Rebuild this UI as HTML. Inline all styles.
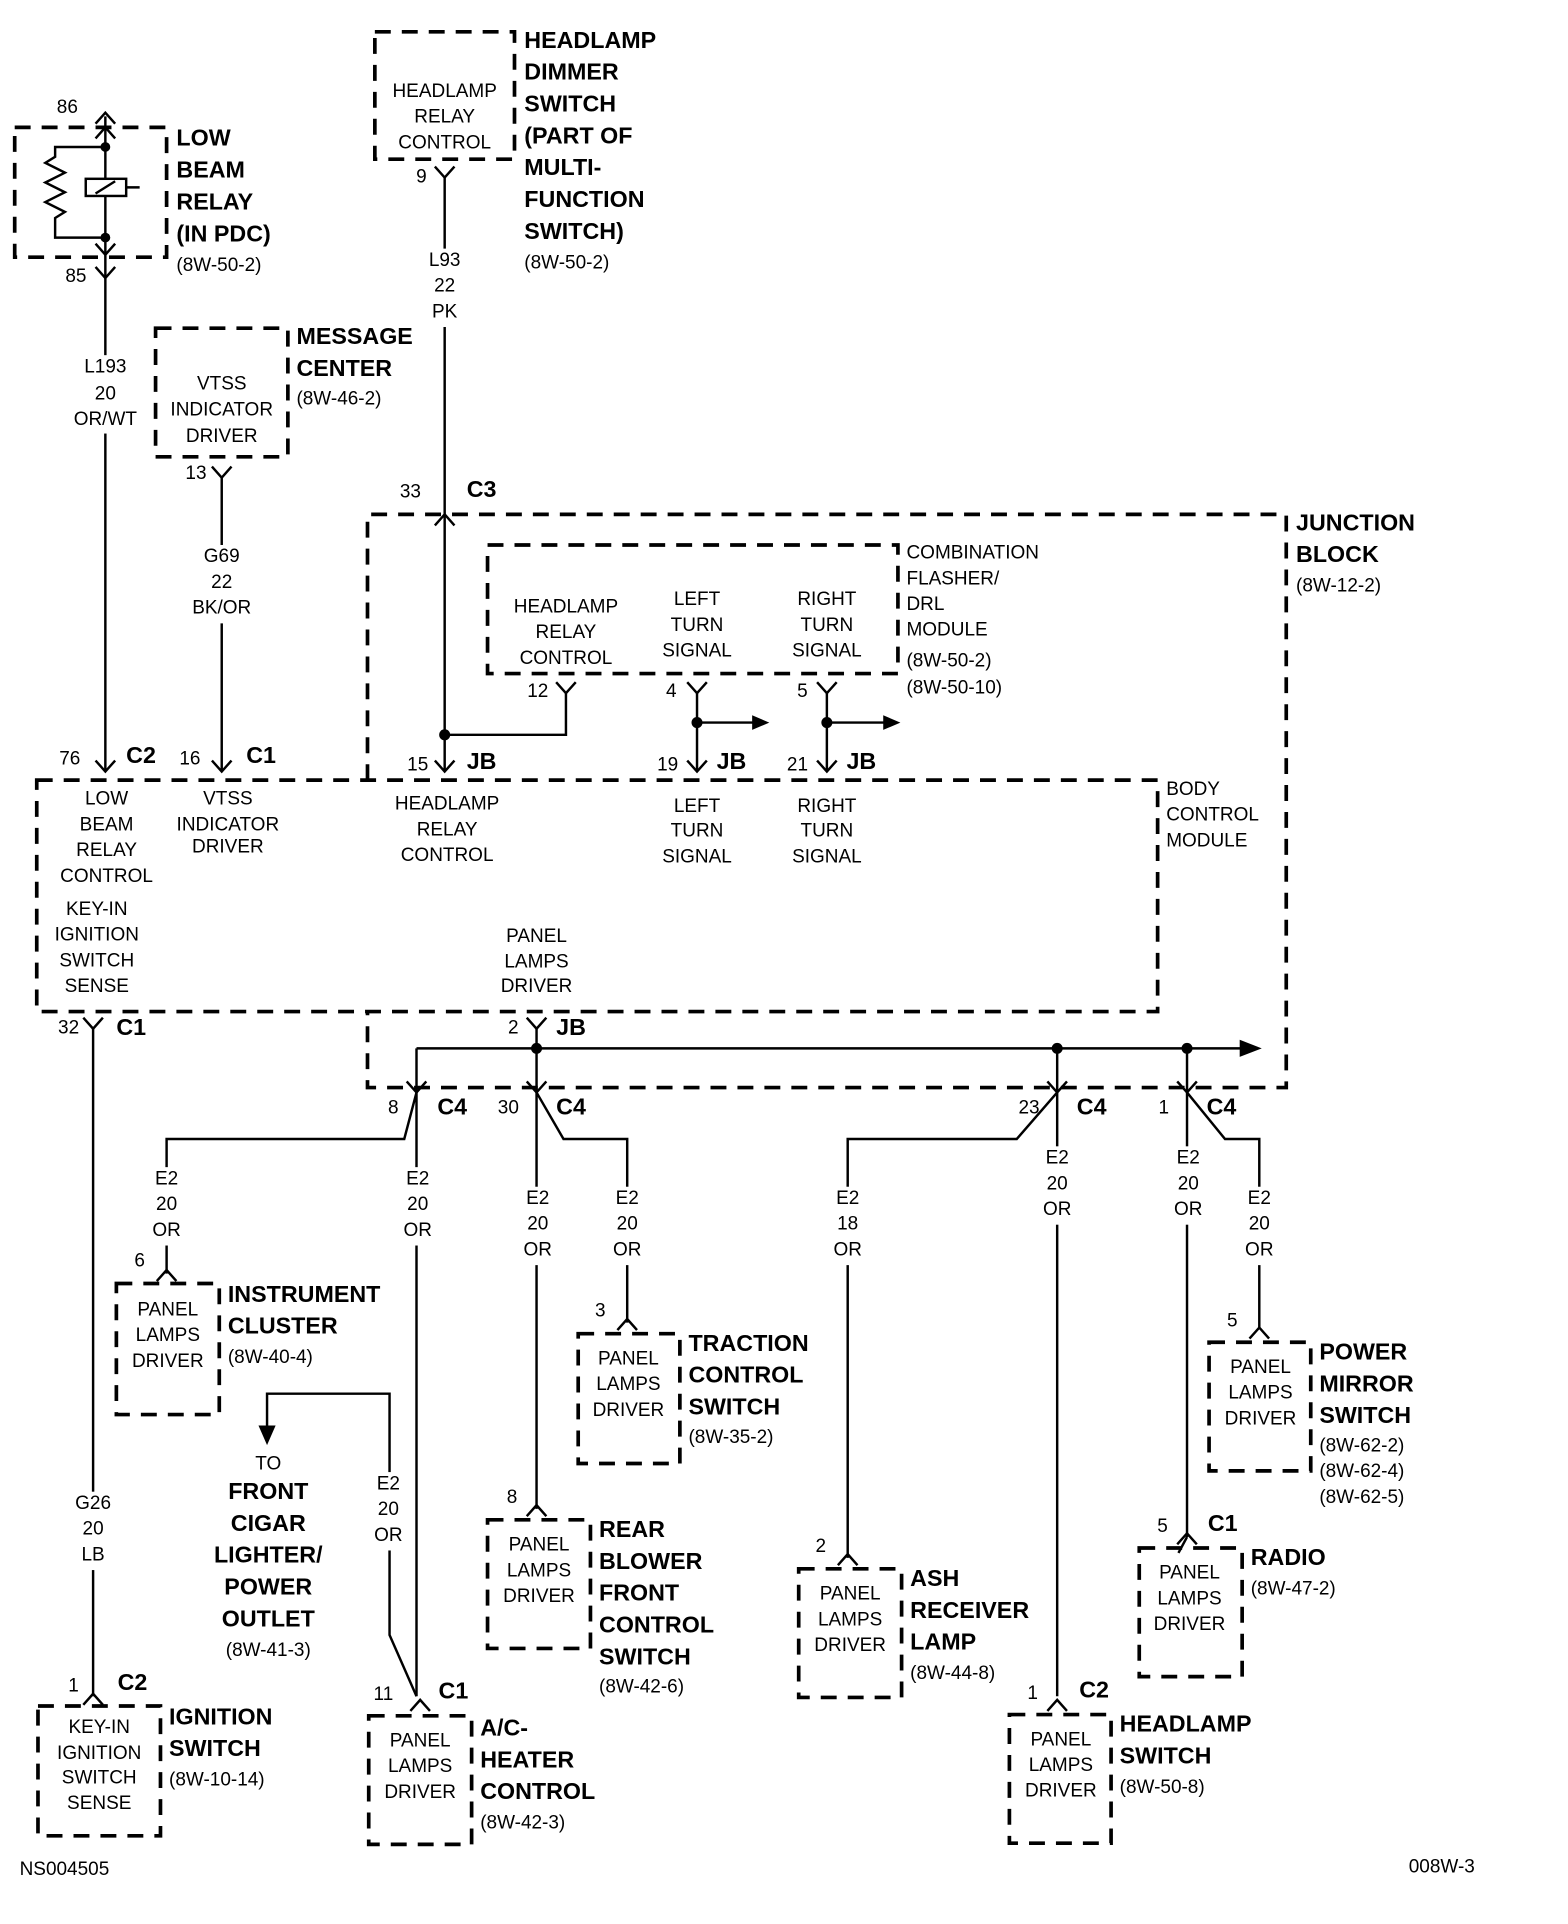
<!DOCTYPE html>
<html><head><meta charset="utf-8">
<style>
html,body{margin:0;padding:0;background:#fff;}
svg{display:block;}
text{font-family:"Liberation Sans",Arial,sans-serif;fill:#000;}
.s{font-size:15.5px;text-anchor:middle;dominant-baseline:middle;}
.sl{font-size:15.5px;dominant-baseline:middle;}
.b{font-size:19px;font-weight:bold;dominant-baseline:middle;}
.bc{font-size:19px;font-weight:bold;dominant-baseline:middle;text-anchor:middle;}
.d{fill:none;stroke:#000;stroke-width:3;stroke-dasharray:13,9;}
.w{fill:none;stroke:#000;stroke-width:2;}
.bg{fill:#fff;stroke:none;}
</style></head><body>
<svg width="1568" height="1924" viewBox="0 0 1280 1571" preserveAspectRatio="none" xmlns="http://www.w3.org/2000/svg">
<defs>
<path id="cv" d="M-8,-9 L0,0 L8,-9" fill="none" stroke="#000" stroke-width="2"/>
<path id="cu" d="M-8,9 L0,0 L8,9" fill="none" stroke="#000" stroke-width="2"/>
</defs>

<!-- LOW BEAM RELAY -->
<rect class="d" x="12" y="104" width="124" height="106"/>
<path class="w" d="M86,95 V630"/>
<use href="#cu" x="86" y="92"/><use href="#cu" x="86" y="104"/>
<use href="#cv" x="86" y="208"/><use href="#cv" x="86" y="227"/>
<path class="w" d="M86,120 H45 V128 l-8,5 l16,8 l-16,8 l16,8 l-16,8 l16,8 l-8,5 V194 H86"/>
<circle cx="86" cy="120" r="4"/><circle cx="86" cy="194" r="4"/>
<rect x="70" y="146" width="33" height="14" fill="#fff" stroke="#000" stroke-width="2"/>
<path class="w" d="M78,158 L94,148 M103,153 H114"/>
<text class="s" x="55" y="88">86</text><text class="s" x="62" y="226">85</text>
<text class="b" x="144" y="114">LOW</text><text class="b" x="144" y="140">BEAM</text>
<text class="b" x="144" y="166">RELAY</text><text class="b" x="144" y="192">(IN PDC)</text>
<text class="sl" x="144" y="217">(8W-50-2)</text>
<rect class="bg" x="58" y="290" width="58" height="64"/>
<text class="s" x="86" y="300">L193</text><text class="s" x="86" y="322">20</text><text class="s" x="86" y="343">OR/WT</text>

<!-- HEADLAMP DIMMER -->
<rect class="d" x="306" y="26" width="114" height="104"/>
<text class="s" x="363" y="75">HEADLAMP</text><text class="s" x="363" y="96">RELAY</text><text class="s" x="363" y="117">CONTROL</text>
<use href="#cv" x="363" y="145"/><text class="s" x="344" y="145">9</text>
<path class="w" d="M363,145 V600"/>
<rect class="bg" x="345" y="203" width="36" height="64"/>
<text class="s" x="363" y="213">L93</text><text class="s" x="363" y="234">22</text><text class="s" x="363" y="255">PK</text>
<text class="b" x="428" y="34">HEADLAMP</text><text class="b" x="428" y="60">DIMMER</text><text class="b" x="428" y="86">SWITCH</text>
<text class="b" x="428" y="112">(PART OF</text><text class="b" x="428" y="138">MULTI-</text><text class="b" x="428" y="164">FUNCTION</text>
<text class="b" x="428" y="190">SWITCH)</text><text class="sl" x="428" y="215">(8W-50-2)</text>

<!-- MESSAGE CENTER -->
<rect class="d" x="127" y="268" width="108" height="105"/>
<text class="s" x="181" y="314">VTSS</text><text class="s" x="181" y="335">INDICATOR</text><text class="s" x="181" y="357">DRIVER</text>
<use href="#cv" x="181" y="390"/><text class="s" x="160" y="387">13</text>
<path class="w" d="M181,390 V630"/>
<rect class="bg" x="155" y="445" width="52" height="64"/>
<text class="s" x="181" y="455">G69</text><text class="s" x="181" y="476">22</text><text class="s" x="181" y="497">BK/OR</text>
<text class="b" x="242" y="276">MESSAGE</text><text class="b" x="242" y="302">CENTER</text><text class="sl" x="242" y="326">(8W-46-2)</text>

<!-- JUNCTION BLOCK -->
<path class="d" d="M300,637 V420 H1050 V888 H300 V826"/>
<use href="#cu" x="363" y="420"/>
<text class="s" x="335" y="402">33</text><text class="b" x="381" y="401">C3</text>
<text class="b" x="1058" y="428">JUNCTION</text><text class="b" x="1058" y="454">BLOCK</text><text class="sl" x="1058" y="479">(8W-12-2)</text>

<rect class="d" x="398" y="445" width="335" height="105"/>
<text class="s" x="462" y="496">HEADLAMP</text><text class="s" x="462" y="517">RELAY</text><text class="s" x="462" y="538">CONTROL</text>
<text class="s" x="569" y="490">LEFT</text><text class="s" x="569" y="511">TURN</text><text class="s" x="569" y="532">SIGNAL</text>
<text class="s" x="675" y="490">RIGHT</text><text class="s" x="675" y="511">TURN</text><text class="s" x="675" y="532">SIGNAL</text>
<text class="sl" x="740" y="452">COMBINATION</text><text class="sl" x="740" y="473">FLASHER/</text><text class="sl" x="740" y="494">DRL</text>
<text class="sl" x="740" y="515">MODULE</text><text class="sl" x="740" y="540">(8W-50-2)</text><text class="sl" x="740" y="562">(8W-50-10)</text>

<use href="#cv" x="462" y="566"/><text class="s" x="439" y="565">12</text>
<use href="#cv" x="569" y="566"/><text class="s" x="548" y="565">4</text>
<use href="#cv" x="675" y="566"/><text class="s" x="655" y="565">5</text>
<path class="w" d="M462,566 V600 H363 M569,566 V630 M569,590 H618 M675,566 V630 M675,590 H724"/>
<path d="M628,590 L614,584 L614,596 Z M735,590 L721,584 L721,596 Z"/>
<circle cx="363" cy="600" r="4.5"/><circle cx="569" cy="590" r="4.5"/><circle cx="675" cy="590" r="4.5"/>
<path class="w" d="M363,600 V630"/>
<use href="#cv" x="363" y="630"/><use href="#cv" x="569" y="630"/><use href="#cv" x="675" y="630"/>
<text class="s" x="341" y="625">15</text><text class="b" x="381" y="623">JB</text>
<text class="s" x="545" y="625">19</text><text class="b" x="585" y="623">JB</text>
<text class="s" x="651" y="625">21</text><text class="b" x="691" y="623">JB</text>

<!-- BODY CONTROL MODULE -->
<rect class="d" x="30" y="637" width="915" height="189"/>
<text class="sl" x="952" y="645">BODY</text><text class="sl" x="952" y="666">CONTROL</text><text class="sl" x="952" y="687">MODULE</text>
<use href="#cv" x="86" y="630"/><use href="#cv" x="181" y="630"/>
<text class="s" x="57" y="620">76</text><text class="b" x="103" y="618">C2</text>
<text class="s" x="155" y="620">16</text><text class="b" x="201" y="618">C1</text>
<text class="s" x="87" y="653">LOW</text><text class="s" x="87" y="674">BEAM</text><text class="s" x="87" y="695">RELAY</text><text class="s" x="87" y="716">CONTROL</text>
<text class="s" x="186" y="653">VTSS</text><text class="s" x="186" y="674">INDICATOR</text><text class="s" x="186" y="692">DRIVER</text>
<text class="s" x="365" y="657">HEADLAMP</text><text class="s" x="365" y="678">RELAY</text><text class="s" x="365" y="699">CONTROL</text>
<text class="s" x="569" y="659">LEFT</text><text class="s" x="569" y="679">TURN</text><text class="s" x="569" y="700">SIGNAL</text>
<text class="s" x="675" y="659">RIGHT</text><text class="s" x="675" y="679">TURN</text><text class="s" x="675" y="700">SIGNAL</text>
<text class="s" x="79" y="743">KEY-IN</text><text class="s" x="79" y="764">IGNITION</text><text class="s" x="79" y="785">SWITCH</text><text class="s" x="79" y="806">SENSE</text>
<text class="s" x="438" y="765">PANEL</text><text class="s" x="438" y="786">LAMPS</text><text class="s" x="438" y="806">DRIVER</text>

<use href="#cv" x="76" y="840"/><text class="s" x="56" y="840">32</text><text class="b" x="95" y="840">C1</text>
<path class="w" d="M76,840 V1385"/>
<rect class="bg" x="56" y="1218" width="40" height="64"/>
<text class="s" x="76" y="1228">G26</text><text class="s" x="76" y="1249">20</text><text class="s" x="76" y="1270">LB</text>
<use href="#cv" x="438" y="840"/><text class="s" x="419" y="840">2</text><text class="b" x="454" y="840">JB</text>

<!-- bus -->
<path class="w" d="M340,856 H1015 M438,840 V892 M340,856 V892 M863,856 V892 M969,856 V892"/>
<path d="M1030,856 L1012,849 L1012,863 Z"/>
<circle cx="438" cy="856" r="4.5"/><circle cx="863" cy="856" r="4.5"/><circle cx="969" cy="856" r="4.5"/>
<use href="#cv" x="340" y="892"/><use href="#cv" x="438" y="892"/><use href="#cv" x="863" y="892"/><use href="#cv" x="969" y="892"/>
<text class="s" x="321" y="905">8</text><text class="b" x="357" y="905">C4</text>
<text class="s" x="415" y="905">30</text><text class="b" x="454" y="905">C4</text>
<text class="s" x="840" y="905">23</text><text class="b" x="879" y="905">C4</text>
<text class="s" x="950" y="905">1</text><text class="b" x="985" y="905">C4</text>

<!-- C4 8 -->
<path class="w" d="M340,892 L330,930 H136 V1040 M340,892 V1385"/>
<rect class="bg" x="120" y="953" width="32" height="64"/>
<rect class="bg" x="325" y="953" width="32" height="64"/>
<text class="s" x="136" y="963">E2</text><text class="s" x="136" y="984">20</text><text class="s" x="136" y="1005">OR</text>
<text class="s" x="341" y="963">E2</text><text class="s" x="341" y="984">20</text><text class="s" x="341" y="1005">OR</text>
<use href="#cu" x="136" y="1037"/><text class="s" x="114" y="1030">6</text>
<rect class="d" x="95" y="1048" width="84" height="107"/>
<text class="s" x="137" y="1070">PANEL</text><text class="s" x="137" y="1091">LAMPS</text><text class="s" x="137" y="1112">DRIVER</text>
<text class="b" x="186" y="1058">INSTRUMENT</text><text class="b" x="186" y="1084">CLUSTER</text><text class="sl" x="186" y="1109">(8W-40-4)</text>

<!-- C4 30 -->
<path class="w" d="M438,892 V1232 M438,892 L460,930 H512 V1080"/>
<rect class="bg" x="423" y="969" width="32" height="64"/>
<rect class="bg" x="496" y="969" width="32" height="64"/>
<text class="s" x="439" y="979">E2</text><text class="s" x="439" y="1000">20</text><text class="s" x="439" y="1021">OR</text>
<text class="s" x="512" y="979">E2</text><text class="s" x="512" y="1000">20</text><text class="s" x="512" y="1021">OR</text>
<use href="#cu" x="512" y="1077"/><text class="s" x="490" y="1071">3</text>
<rect class="d" x="472" y="1089" width="83" height="106"/>
<text class="s" x="513" y="1110">PANEL</text><text class="s" x="513" y="1131">LAMPS</text><text class="s" x="513" y="1152">DRIVER</text>
<text class="b" x="562" y="1098">TRACTION</text><text class="b" x="562" y="1124">CONTROL</text><text class="b" x="562" y="1150">SWITCH</text><text class="sl" x="562" y="1174">(8W-35-2)</text>
<use href="#cu" x="438" y="1229"/><text class="s" x="418" y="1223">8</text>
<rect class="d" x="398" y="1241" width="84" height="105"/>
<text class="s" x="440" y="1262">PANEL</text><text class="s" x="440" y="1283">LAMPS</text><text class="s" x="440" y="1304">DRIVER</text>
<text class="b" x="489" y="1250">REAR</text><text class="b" x="489" y="1276">BLOWER</text><text class="b" x="489" y="1302">FRONT</text>
<text class="b" x="489" y="1328">CONTROL</text><text class="b" x="489" y="1354">SWITCH</text><text class="sl" x="489" y="1378">(8W-42-6)</text>

<!-- C4 23 -->
<path class="w" d="M863,892 V1385 M863,892 L830,930 H692 V1272"/>
<rect class="bg" x="847" y="936" width="32" height="64"/>
<rect class="bg" x="676" y="969" width="32" height="64"/>
<text class="s" x="863" y="946">E2</text><text class="s" x="863" y="967">20</text><text class="s" x="863" y="988">OR</text>
<text class="s" x="692" y="979">E2</text><text class="s" x="692" y="1000">18</text><text class="s" x="692" y="1021">OR</text>
<use href="#cu" x="692" y="1269"/><text class="s" x="670" y="1263">2</text>
<rect class="d" x="652" y="1281" width="84" height="105"/>
<text class="s" x="694" y="1302">PANEL</text><text class="s" x="694" y="1323">LAMPS</text><text class="s" x="694" y="1344">DRIVER</text>
<text class="b" x="743" y="1290">ASH</text><text class="b" x="743" y="1316">RECEIVER</text><text class="b" x="743" y="1342">LAMP</text><text class="sl" x="743" y="1367">(8W-44-8)</text>
<use href="#cu" x="863" y="1388"/><text class="s" x="843" y="1383">1</text><text class="b" x="881" y="1381">C2</text>
<rect class="d" x="824" y="1400" width="83" height="105"/>
<text class="s" x="866" y="1421">PANEL</text><text class="s" x="866" y="1442">LAMPS</text><text class="s" x="866" y="1463">DRIVER</text>
<text class="b" x="914" y="1409">HEADLAMP</text><text class="b" x="914" y="1435">SWITCH</text><text class="sl" x="914" y="1460">(8W-50-8)</text>

<!-- C4 1 -->
<path class="w" d="M969,892 V1255 M969,892 L1000,930 H1028 V1085"/>
<rect class="bg" x="954" y="936" width="32" height="64"/>
<rect class="bg" x="1012" y="969" width="32" height="64"/>
<text class="s" x="970" y="946">E2</text><text class="s" x="970" y="967">20</text><text class="s" x="970" y="988">OR</text>
<text class="s" x="1028" y="979">E2</text><text class="s" x="1028" y="1000">20</text><text class="s" x="1028" y="1021">OR</text>
<use href="#cu" x="1028" y="1084"/><text class="s" x="1006" y="1079">5</text>
<rect class="d" x="987" y="1096" width="83" height="105"/>
<text class="s" x="1029" y="1117">PANEL</text><text class="s" x="1029" y="1138">LAMPS</text><text class="s" x="1029" y="1159">DRIVER</text>
<text class="b" x="1077" y="1105">POWER</text><text class="b" x="1077" y="1131">MIRROR</text><text class="b" x="1077" y="1157">SWITCH</text>
<text class="sl" x="1077" y="1181">(8W-62-2)</text><text class="sl" x="1077" y="1202">(8W-62-4)</text><text class="sl" x="1077" y="1223">(8W-62-5)</text>
<path class="w" d="M969,1255 L962,1268"/>
<use href="#cu" x="969" y="1252"/><text class="s" x="949" y="1247">5</text><text class="b" x="986" y="1245">C1</text>
<rect class="d" x="930" y="1264" width="84" height="105"/>
<text class="s" x="971" y="1285">PANEL</text><text class="s" x="971" y="1306">LAMPS</text><text class="s" x="971" y="1327">DRIVER</text>
<text class="b" x="1021" y="1273">RADIO</text><text class="sl" x="1021" y="1298">(8W-47-2)</text>

<!-- cigar lighter -->
<path class="w" d="M218,1170 V1138 H318 V1335 L340,1385"/>
<path d="M218,1180 L211,1164 L225,1164 Z"/>
<rect class="bg" x="301" y="1202" width="32" height="64"/>
<text class="s" x="317" y="1212">E2</text><text class="s" x="317" y="1233">20</text><text class="s" x="317" y="1254">OR</text>
<text class="s" x="219" y="1196">TO</text>
<text class="bc" x="219" y="1219">FRONT</text><text class="bc" x="219" y="1245">CIGAR</text><text class="bc" x="219" y="1271">LIGHTER/</text>
<text class="bc" x="219" y="1297">POWER</text><text class="bc" x="219" y="1323">OUTLET</text>
<text class="s" x="219" y="1348">(8W-41-3)</text>

<!-- A/C heater -->
<use href="#cu" x="343" y="1388"/><text class="s" x="313" y="1384">11</text><text class="b" x="358" y="1382">C1</text>
<rect class="d" x="301" y="1401" width="84" height="105"/>
<text class="s" x="343" y="1422">PANEL</text><text class="s" x="343" y="1443">LAMPS</text><text class="s" x="343" y="1464">DRIVER</text>
<text class="b" x="392" y="1412">A/C-</text><text class="b" x="392" y="1438">HEATER</text><text class="b" x="392" y="1464">CONTROL</text><text class="sl" x="392" y="1489">(8W-42-3)</text>

<!-- Ignition switch -->
<use href="#cu" x="76" y="1383"/><text class="s" x="60" y="1377">1</text><text class="b" x="96" y="1375">C2</text>
<rect class="d" x="31" y="1393" width="100" height="106"/>
<text class="s" x="81" y="1411">KEY-IN</text><text class="s" x="81" y="1432">IGNITION</text><text class="s" x="81" y="1452">SWITCH</text><text class="s" x="81" y="1473">SENSE</text>
<text class="b" x="138" y="1403">IGNITION</text><text class="b" x="138" y="1429">SWITCH</text><text class="sl" x="138" y="1454">(8W-10-14)</text>

<text class="sl" x="16" y="1527">NS004505</text>
<text class="sl" x="1150" y="1525">008W-3</text>
</svg>
</body></html>
